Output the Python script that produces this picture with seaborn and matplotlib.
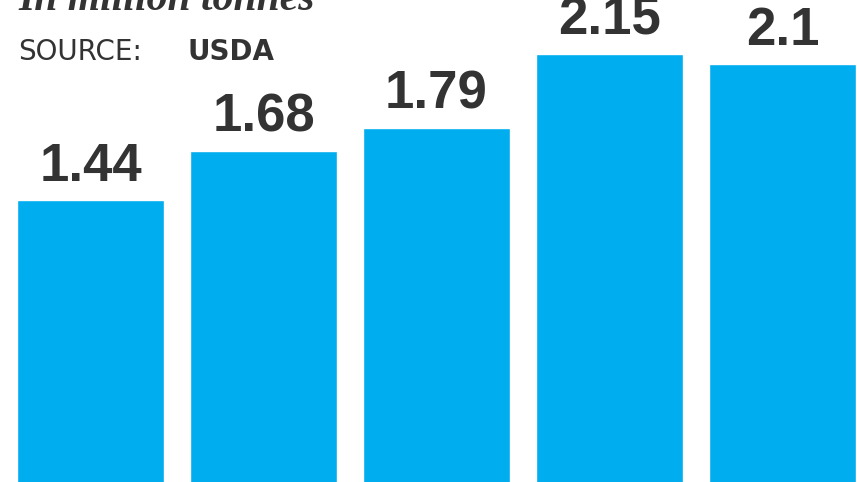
import numpy as np
import pandas as pd
import seaborn as sns
import matplotlib.pyplot as plt

years = ["y1", "y2", "y3", "y4", "y5"]
values = [1.44, 1.68, 1.79, 2.15, 2.1]
labels = ["1.44", "1.68", "1.79", "2.15", "2.1"]

sns.set_theme(style="white")
df = pd.DataFrame({"year": years, "value": values})

fig = plt.figure(figsize=(8.57, 4.82), dpi=100)
ax = fig.add_axes([0, 0, 1, 1])
sns.barplot(data=df, x="year", y="value", color="#00AEEF", saturation=1,
            width=0.85, ax=ax)
ax.set_xlim(-0.523, 4.43)
ax.set_ylim(0.068, 2.412)
ax.bar_label(ax.containers[0], labels=labels, padding=6,
             fontsize=38, fontweight="bold", color="#333333",
             family="Liberation Sans")
ax.axis("off")

fig.text(18 / 857, 1 - 10 / 482, "In million tonnes", family="Liberation Serif",
         style="italic", fontweight="bold", fontsize=30, color="#333333",
         va="baseline")
fig.text(18 / 857, 1 - 52 / 482, "SOURCE:", fontsize=20, color="#333333",
         family="DejaVu Sans", va="center")
fig.text(188 / 857, 1 - 52 / 482, "USDA", fontsize=20, color="#333333",
         fontweight="bold", family="DejaVu Sans", va="center")

fig.savefig("out.png", dpi=100)
